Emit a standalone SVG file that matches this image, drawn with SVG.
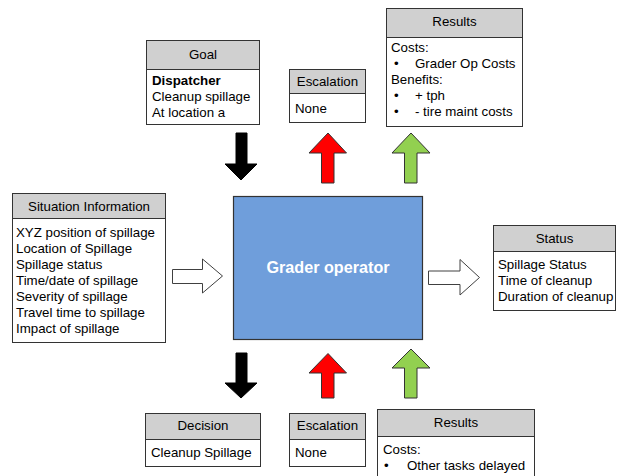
<svg xmlns="http://www.w3.org/2000/svg" width="618" height="476" viewBox="0 0 618 476">
  <style>
    text { font-family: "Liberation Sans", Arial, sans-serif; font-size: 13.3px; fill: #000; }
    .hdr { fill: #d0d0d0; stroke: #333; stroke-width: 1; }
    .body { fill: #fff; stroke: #333; stroke-width: 1; }
    .mid { text-anchor: middle; }
    .b { font-weight: bold; }
    .white { fill: #fff; stroke: #404040; stroke-width: 1; }
    .black { fill: #000; stroke: #000; stroke-width: 1; }
    .red { fill: #ff0000; stroke: #333; stroke-width: 1; }
    .green { fill: #92d050; stroke: #333; stroke-width: 1; }
  </style>

  <!-- central actor -->
  <g id="grader-operator">
    <rect x="233.5" y="196.5" width="189" height="143" fill="#6f9edb" stroke="#333" stroke-width="1.2"/>
    <text x="328" y="273" class="mid b" style="fill:#fff;font-size:16.2px">Grader operator</text>
  </g>

  <g id="goal">
    <rect class="body" x="146.5" y="40.5" width="113" height="84"/>
    <rect class="hdr" x="146.5" y="40.5" width="113" height="29"/>
    <text x="203" y="59" class="mid">Goal</text>
    <text x="152" y="85" class="b">Dispatcher</text>
    <text x="152" y="101">Cleanup spillage</text>
    <text x="152" y="117">At location a</text>
  </g>

  <g id="escalation-top">
    <rect class="body" x="289.5" y="69.5" width="76" height="53"/>
    <rect class="hdr" x="289.5" y="69.5" width="76" height="24"/>
    <text x="327.5" y="86" class="mid">Escalation</text>
    <text x="295" y="113">None</text>
  </g>

  <g id="results-top">
    <rect class="body" x="386.5" y="8.5" width="136" height="118"/>
    <rect class="hdr" x="386.5" y="8.5" width="136" height="29"/>
    <text x="454.5" y="26" class="mid">Results</text>
    <text x="391" y="52">Costs:</text>
    <text x="394" y="68">•</text>
    <text x="415" y="68">Grader Op Costs</text>
    <text x="391" y="84">Benefits:</text>
    <text x="394" y="100">•</text>
    <text x="415" y="100">+ tph</text>
    <text x="394" y="116">•</text>
    <text x="415" y="116">- tire maint costs</text>
  </g>

  <g id="situation-information">
    <rect class="body" x="12.5" y="193.5" width="153" height="149"/>
    <rect class="hdr" x="12.5" y="193.5" width="153" height="25"/>
    <text x="89" y="211" class="mid">Situation Information</text>
    <text x="16" y="237">XYZ position of spillage</text>
    <text x="16" y="253">Location of Spillage</text>
    <text x="16" y="269">Spillage status</text>
    <text x="16" y="285">Time/date of spillage</text>
    <text x="16" y="301">Severity of spillage</text>
    <text x="16" y="317">Travel time to spillage</text>
    <text x="16" y="333">Impact of spillage</text>
  </g>

  <g id="status">
    <rect class="body" x="493.5" y="225.5" width="122" height="85"/>
    <rect class="hdr" x="493.5" y="225.5" width="122" height="26"/>
    <text x="554.5" y="243" class="mid">Status</text>
    <text x="498" y="269">Spillage Status</text>
    <text x="498" y="285">Time of cleanup</text>
    <text x="498" y="301">Duration of cleanup</text>
  </g>

  <g id="decision">
    <rect class="body" x="145.5" y="413.5" width="115" height="53"/>
    <rect class="hdr" x="145.5" y="413.5" width="115" height="26"/>
    <text x="203" y="430" class="mid">Decision</text>
    <text x="151" y="457">Cleanup Spillage</text>
  </g>

  <g id="escalation-bottom">
    <rect class="body" x="289.5" y="413.5" width="76" height="53"/>
    <rect class="hdr" x="289.5" y="413.5" width="76" height="26"/>
    <text x="327.5" y="430" class="mid">Escalation</text>
    <text x="295" y="457">None</text>
  </g>

  <g id="results-bottom">
    <rect class="body" x="377.5" y="409.5" width="157" height="80"/>
    <rect class="hdr" x="377.5" y="409.5" width="157" height="27"/>
    <text x="456" y="427" class="mid">Results</text>
    <text x="383" y="454">Costs:</text>
    <text x="384" y="470">•</text>
    <text x="407" y="470">Other tasks delayed</text>
  </g>

  <!-- block arrows linking the boxes to the operator -->
  <g id="connectors">
    <!-- input from situation information -->
    <polygon class="white" points="172.5,269.5 202.5,269.5 202.5,259 222.5,276 202.5,293 202.5,283.5 172.5,283.5"/>
    <!-- output to status -->
    <polygon class="white" points="428.5,271 460,271 460,259.5 479.5,277.5 460,295 460,284.5 428.5,284.5"/>
    <!-- goal into operator -->
    <polygon class="black" points="236,133 247,133 247,164 257,164 241,180 225,164 236,164"/>
    <!-- escalation up (top) -->
    <polygon class="red" points="321.5,183 334,183 334,153 346.5,153 328,133 309,153 321.5,153"/>
    <!-- results up (top) -->
    <polygon class="green" points="404.5,183 417,183 417,153 430,153 411,133 392,153 404.5,153"/>
    <!-- decision out of operator -->
    <polygon class="black" points="236,353 247,353 247,383 257,383 241,398 225,383 236,383"/>
    <!-- escalation up (bottom) -->
    <polygon class="red" points="321.5,398 334,398 334,373 346.5,373 328,353.5 309,373 321.5,373"/>
    <!-- results up (bottom) -->
    <polygon class="green" points="404.5,398 417,398 417,368 430,368 411,349 392,368 404.5,368"/>
  </g>
</svg>
